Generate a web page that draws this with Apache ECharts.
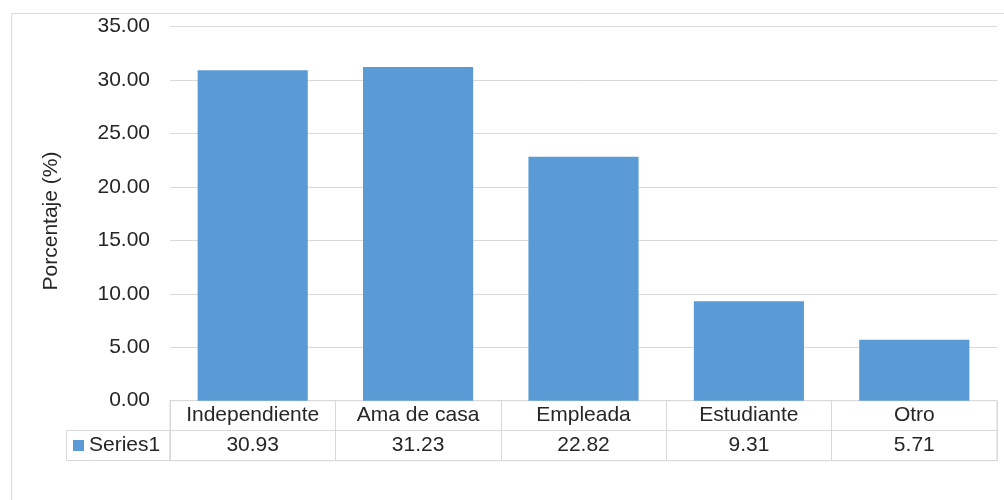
<!DOCTYPE html>
<html>
<head>
<meta charset="utf-8">
<script src="https://cdn.jsdelivr.net/npm/echarts@6/dist/echarts.min.js"></script>
<style>
html,body{margin:0;padding:0;background:#fff;}
#c{width:1004px;height:500px;}
</style>
</head>
<body>
<div id="c"></div>
<script>
const categories = ['Independiente', 'Ama de casa', 'Empleada', 'Estudiante', 'Otro'];
const seriesName = 'Series1';
const values = [30.93, 31.23, 22.82, 9.31, 5.71];
const yTitle = 'Porcentaje (%)';
const yMin = 0, yMax = 35, yStep = 5;

const FONT = '"Liberation Sans", Arial, sans-serif';
const TXT = '#262626';
const LINE = '#d9d9d9';
const BAR = '#5b9bd5';

const chart = echarts.init(document.getElementById('c'), null, {renderer: 'canvas'});
const option = {
  animation: false,
  backgroundColor: '#ffffff',
  textStyle: {fontFamily: FONT, color: TXT},
  grid: [
    {left: 170, right: 7, top: 26.7, bottom: 500 - 400.7},
    {left: 170, right: 7, top: 400.7, height: 60, show: true, borderColor: LINE, borderWidth: 1}
  ],
  legend: {
    data: [seriesName],
    left: 73, top: 435, padding: 0,
    icon: 'rect', itemWidth: 11, itemHeight: 11, itemGap: 5,
    textStyle: {fontFamily: FONT, fontSize: 21, color: TXT}
  },
  xAxis: [
    {
      type: 'category', gridIndex: 0, data: categories,
      axisLine: {show: false}, axisTick: {show: false},
      axisLabel: {margin: 4, fontFamily: FONT, fontSize: 21, lineHeight: 21, color: TXT, interval: 0}
    },
    {
      type: 'category', gridIndex: 0, position: 'bottom', offset: 30,
      data: values.map(v => v.toFixed(2)),
      axisLine: {show: false}, axisTick: {show: false},
      axisLabel: {margin: 4, fontFamily: FONT, fontSize: 21, lineHeight: 21, color: TXT, interval: 0}
    },
    {
      type: 'category', gridIndex: 1, data: categories,
      axisLine: {show: false}, axisTick: {show: false}, axisLabel: {show: false},
      splitLine: {show: true, interval: 0, lineStyle: {color: LINE, width: 1}}
    }
  ],
  yAxis: [
    {
      type: 'value', gridIndex: 0, min: yMin, max: yMax, interval: yStep,
      axisLine: {show: false}, axisTick: {show: false},
      axisLabel: {margin: 20, fontFamily: FONT, fontSize: 21, color: TXT, formatter: v => v.toFixed(2)},
      splitLine: {show: true, lineStyle: {color: LINE, width: 1}}
    },
    {
      type: 'category', gridIndex: 1, data: ['h', 'v'], inverse: true,
      axisLine: {show: false}, axisTick: {show: false}, axisLabel: {show: false},
      splitLine: {show: true, interval: 0, lineStyle: {color: LINE, width: 1}}
    }
  ],
  series: [
    {
      name: seriesName, type: 'bar', xAxisIndex: 0, yAxisIndex: 0,
      data: values, barCategoryGap: '33.4%',
      itemStyle: {color: BAR}
    }
  ],
  graphic: [
    {type: 'rect', shape: {x: 11.5, y: 13.5, width: 1010, height: 520}, style: {fill: 'none', stroke: LINE, lineWidth: 1}, silent: true, z: -1},
    {type: 'rect', shape: {x: 66.5, y: 430.5, width: 103.5, height: 30}, style: {fill: 'none', stroke: LINE, lineWidth: 1}, silent: true},
    {type: 'text', x: 51, y: 221, rotation: Math.PI / 2,
     style: {text: yTitle, font: '21px ' + FONT, fill: TXT, textAlign: 'center', textVerticalAlign: 'middle'}}
  ]
};
chart.setOption(option);
</script>
</body>
</html>
